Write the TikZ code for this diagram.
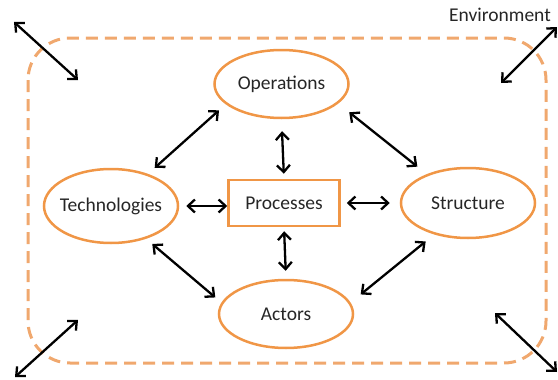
\documentclass[tikz,border=0pt]{standalone}
\usepackage{fontspec}
\setmainfont{Carlito}
\usetikzlibrary{arrows.meta,shapes.geometric}
\definecolor{orng}{RGB}{240,150,70}
\definecolor{dorng}{RGB}{240,168,110}
\begin{document}
\begin{tikzpicture}[x=1pt,y=-1pt,
  ell/.style={ellipse,draw=orng,line width=2.5pt,inner xsep=-15pt,inner ysep=0pt,font=\fontsize{19.5}{23}\selectfont,text=black!85},
  arr/.style={line width=2.3pt,{Straight Barb[length=7pt,width=13pt]}-{Straight Barb[length=7pt,width=13pt]}}]
\useasboundingbox (0,0) rectangle (558,380);
\draw[dorng,line width=3pt,dash pattern=on 12pt off 7pt,rounded corners=42pt] (28,38) rectangle (546,363);
\node[ell,minimum width=134pt,minimum height=68pt] (ops) at (281.5,84) {Operations};
\node[ell,minimum width=134pt,minimum height=74pt] (tech) at (111,206) {Technologies};
\node[ell,minimum width=134pt,minimum height=70pt] (str) at (468,203) {Structure};
\node[ell,minimum width=134pt,minimum height=68pt] (act) at (286,314) {Actors};
\node[draw=orng,line width=2.5pt,minimum width=111pt,minimum height=46pt,inner sep=0pt,font=\fontsize{19.5}{23}\selectfont,text=black!85] (proc) at (284,203) {Processes};
\node[font=\fontsize{19.5}{23}\selectfont,text=black!85,inner sep=0pt] (env) at (500,15) {Environment};
\coordinate (tl1) at (14,22); \coordinate (tl2) at (78,80);
\coordinate (tr1) at (557,27); \coordinate (tr2) at (501,83);
\coordinate (bl1) at (78,320); \coordinate (bl2) at (15,377);
\coordinate (br1) at (495,313); \coordinate (br2) at (557,372);
\draw[arr] (tl1) -- (tl2);
\draw[arr] (tr1) -- (tr2);
\draw[arr] (bl1) -- (bl2);
\draw[arr] (br1) -- (br2);
\draw[arr,shorten <=9pt,shorten >=9pt] (ops.200) -- (tech.41);
\draw[arr,shorten <=14pt,shorten >=12pt] (ops.341) -- (str.145);
\draw[arr,shorten <=8pt,shorten >=8pt] (tech.317) -- (act.170);
\draw[arr,shorten <=11pt,shorten >=13pt] (str.223) -- (act.10);
\draw[arr,shorten >=7pt] ([yshift=-3pt]proc.west) -- ([yshift=-3pt]proc.west -| tech.east);
\draw[arr,shorten <=6pt,shorten >=10pt] (proc.east) -- (proc.east -| str.west);
\draw[arr,shorten <=12pt,shorten >=5pt] (ops.south) -- (proc.north);
\draw[arr,shorten <=4pt,shorten >=8pt] (proc.south) -- (act.north);
\end{tikzpicture}
\end{document}
